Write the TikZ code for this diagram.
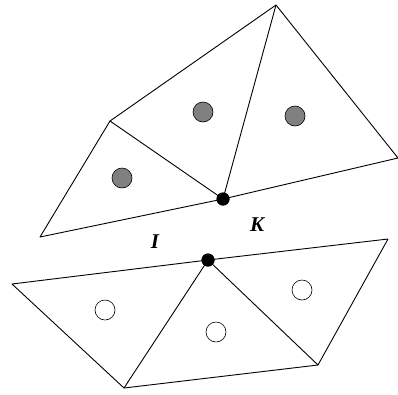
\documentclass[tikz,border=0pt]{standalone}
\usepackage{fontspec}
\setmainfont{Liberation Serif}
\usetikzlibrary{positioning}
\definecolor{DotGray}{HTML}{808080}
\begin{document}
\begin{tikzpicture}[x=1pt,y=-1pt,
    edge/.style={line width=0.9pt,line join=round},
    fulldot/.style={circle,fill=DotGray,draw=black,line width=0.6pt,minimum size=20pt,inner sep=0pt},
    emptydot/.style={circle,fill=white,draw=black,line width=0.6pt,minimum size=20pt,inner sep=0pt},
    vertex/.style={circle,fill=black,minimum size=13pt,inner sep=0pt},
    lab/.style={font=\fontsize{21}{24}\selectfont\bfseries\itshape}]
  \useasboundingbox (0,0) rectangle (398,394);
  % upper patch
  \coordinate (uA) at (40,237);
  \coordinate (uB) at (110,121);
  \coordinate (uC) at (276,5);
  \coordinate (uD) at (398,158);
  \node[vertex] (uK) at (223,199) {};
  \draw[edge] (uA) -- (uB) -- (uC) -- (uD) -- (uK.center) -- cycle;
  \draw[edge] (uB) -- (uK.center) -- (uC);
  \node[vertex] at (uK) {};
  \node[fulldot] (g1) at (122,178) {};
  \node[fulldot] (g2) at (203,112) {};
  \node[fulldot] (g3) at (295,116) {};
  % lower patch
  \coordinate (lE) at (12,284);
  \coordinate (lG) at (388,239);
  \coordinate (lH) at (124,388);
  \coordinate (lJ) at (318,365);
  \node[vertex] (lF) at (208,260) {};
  \draw[edge] (lE) -- (lF.center) -- (lG) -- (lJ) -- (lH) -- cycle;
  \draw[edge] (lH) -- (lF.center) -- (lJ);
  \node[vertex] at (lF) {};
  \node[emptydot] (w1) at (105,310) {};
  \node[emptydot] (w2) at (216,332) {};
  \node[emptydot] (w3) at (302,290) {};
  % labels
  \node[lab] (labI) at (155,242) {I};
  \node[lab] (labK) at (257,225) {K};
\end{tikzpicture}
\end{document}
